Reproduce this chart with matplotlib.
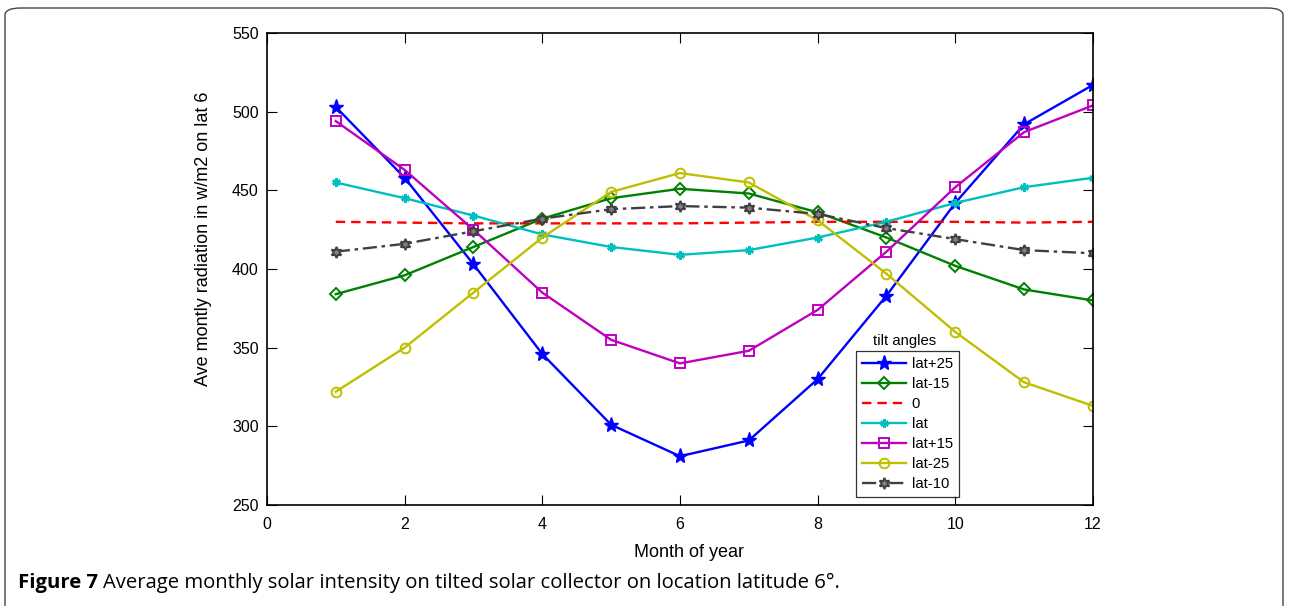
import matplotlib.pyplot as plt
from matplotlib.patches import FancyBboxPatch

plt.rcParams['font.family'] = ['Liberation Sans', 'DejaVu Sans']

months = list(range(1, 13))

lat_p25 = [503, 458, 403, 346, 301, 281, 291, 330, 383, 442, 492, 517]
lat_m15 = [384, 396, 414, 432, 445, 451, 448, 436, 420, 402, 387, 380]
zero = [430, 429.5, 429, 429, 429, 429, 429.5, 430, 430, 430, 429.5, 430]
lat = [455, 445, 434, 422, 414, 409, 412, 420, 430, 442, 452, 458]
lat_p15 = [494, 463, 425, 385, 355, 340, 348, 374, 411, 452, 487, 504]
lat_m25 = [322, 350, 385, 420, 449, 461, 455, 431, 397, 360, 328, 313]
lat_m10 = [411, 416, 424, 432, 438, 440, 439, 435, 426, 419, 412, 410]

fig = plt.figure(figsize=(12.89, 6.06), dpi=100)
ax = fig.add_axes([0.2071, 0.1667, 0.6408, 0.7788])

lw = 1.7
ax.plot(months, lat_p25, color='#0000ff', marker='*', markersize=11, lw=lw, label='lat+25')
ax.plot(months, lat_m15, color='#008000', marker='D', markersize=6, mfc='none', mew=1.4, lw=lw, label='lat-15')
ax.plot(months, zero, color='#ff0000', ls=(0, (4, 2.5)), lw=lw, label='0')
ax.plot(months, lat, color='#00bfbf', marker=(6, 2, 0), markersize=6, mew=1.8, lw=lw, label='lat')
ax.plot(months, lat_p15, color='#bf00bf', marker='s', markersize=7, mfc='none', mew=1.4, lw=lw, label='lat+15')
ax.plot(months, lat_m25, color='#bfbf00', marker='o', markersize=7, mfc='none', mew=1.4, lw=lw, label='lat-25')
ax.plot(months, lat_m10, color='#404040', marker=(6, 1, 0), markersize=8, mfc='#808080', mew=1.4,
        ls=(0, (6, 2, 1.5, 2)), lw=lw, label='lat-10')

ax.set_xlim(0, 12)
ax.set_ylim(250, 550)
ax.set_xticks(range(0, 13, 2))
ax.set_yticks(range(250, 551, 50))
ax.tick_params(direction='in', top=True, right=True, labelsize=11.5, length=7, pad=6)
ax.tick_params(axis='x', pad=9)
for s in ax.spines.values():
    s.set_linewidth(1.2)

ax.set_xlabel('Month of year', fontsize=13)
ax.set_ylabel('Ave montly radiation in w/m2 on lat 6', fontsize=13)
ax.xaxis.set_label_coords(0.511, -0.083)
ax.yaxis.set_label_coords(-0.066, 0.5636)

leg = ax.legend(loc='upper left', bbox_to_anchor=(0.713, 0.326), fontsize=10.7, frameon=True,
                fancybox=False, edgecolor='black', handlelength=2.95, borderpad=0.4,
                labelspacing=0.4, handletextpad=0.4, borderaxespad=0)
leg.get_frame().set_linewidth(0.9)
ax.text(0.772, 0.333, 'tilt angles', transform=ax.transAxes, ha='center', va='bottom', fontsize=10.7)

# caption
fig.canvas.draw()
r = fig.canvas.get_renderer()
t1 = fig.text(18 / 1289, 1 - 583 / 606, 'Figure 7', fontsize=14.6, fontweight='bold',
              family='Open Sans', va='center', ha='left')
bb = t1.get_window_extent(r)
fig.text((bb.x1 + 5) / 1289, 1 - 583 / 606,
         'Average monthly solar intensity on tilted solar collector on location latitude 6\u00b0.',
         fontsize=14.6, family='Open Sans', va='center', ha='left')

border = FancyBboxPatch((5 / 1289, -0.05), 1278 / 1289, 1.05 - 8 / 606,
                        boxstyle='round,pad=0,rounding_size=0.012', transform=fig.transFigure,
                        fill=False, edgecolor='#444444', lw=1.0)
fig.patches.append(border)

fig.savefig('out.png', dpi=100)
